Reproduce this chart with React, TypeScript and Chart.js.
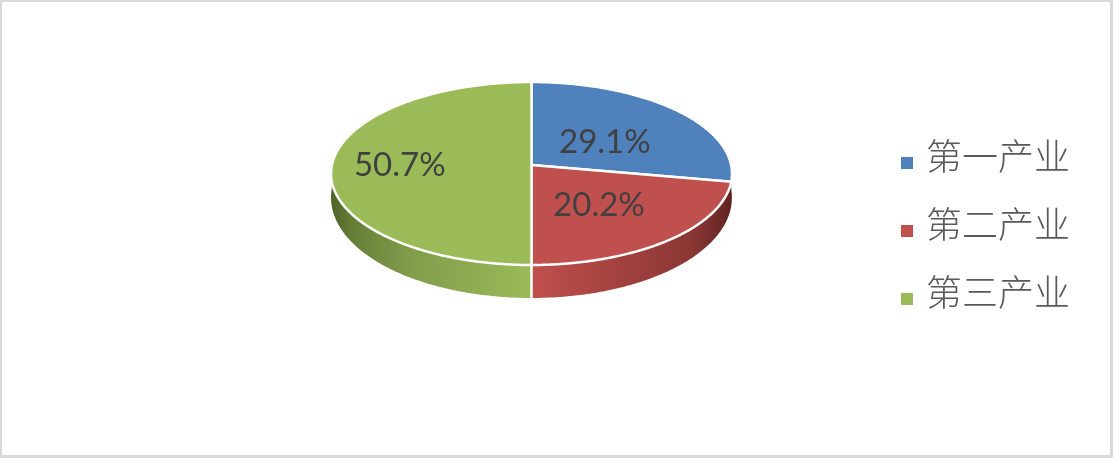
import React, { useEffect, useRef } from "react";
import { Chart, registerables } from "chart.js";

Chart.register(...registerables);

const categories = ["第一产业", "第二产业", "第三产业"];
const drawnShares = [27.9, 22.1, 50.0];
// Percentages as printed on the reference.
const printedLabels = ["29.1%", "20.2%", "50.7%"];
const topColors = ["#4f81bd", "#c0504d", "#9bbb59"];

const labelRadius = [0.454, 0.54, 0.66];
const labelAngleShift = [0.1, 0.05, 0];
const Y_RATIO = 0.4544;
const PERSPECTIVE = 0.0929;
const APEX_SHIFT_Y = -59;

const wallStops: [number, string][] = [
  [0, "#4f6228"], [0.05, "#667f37"], [0.2, "#829d4c"], [0.35, "#8dab51"], [0.4999, "#9bbb59"],
  [0.5, "#c0504d"], [0.7, "#a54341"], [0.9, "#8a3734"], [0.98, "#6a2826"], [1, "#5f2220"],
];

const project = (a: any, t: number, f = 1) => {
  const c = Math.cos(t), s = Math.sin(t);
  const w = 1 - PERSPECTIVE * f * s;
  return {
    x: a.x + (a.outerRadius * f * c) / w,
    y: a.y + APEX_SHIFT_Y + (a.outerRadius * Y_RATIO * f * s) / w,
    s,
  };
};
const depth = (s: number) => 23 + 10 * Math.max(s, 0);

const sampled = (a: any) => {
  const n = Math.max(8, Math.ceil((a.endAngle - a.startAngle) * 90));
  const out: number[] = [];
  for (let i = 0; i <= n; i++) out.push(a.startAngle + ((a.endAngle - a.startAngle) * i) / n);
  return out;
};

const pie3d = {
  id: "pie3d",
  beforeDatasetsDraw(chart: any) {
    const { ctx } = chart;
    const arcs = chart.getDatasetMeta(0).data;
    ctx.save();
    // side wall
    arcs.forEach((a: any) => {
      const pts = sampled(a).map((t) => project(a, t)).filter((p) => p.s >= -0.001);
      if (pts.length < 2) return;
      const g = ctx.createLinearGradient(a.x - a.outerRadius, 0, a.x + a.outerRadius, 0);
      wallStops.forEach(([o, c]) => g.addColorStop(o, c));
      ctx.beginPath();
      pts.forEach((p, i) => (i ? ctx.lineTo(p.x, p.y) : ctx.moveTo(p.x, p.y)));
      [...pts].reverse().forEach((p) => ctx.lineTo(p.x, p.y + depth(p.s)));
      ctx.closePath();
      ctx.fillStyle = g;
      ctx.fill();
    });
    // white seam on the wall at the front
    arcs.forEach((a: any) => {
      const p = project(a, a.endAngle);
      if (Math.abs(p.x - a.x) < 2 && p.s > 0) {
        ctx.strokeStyle = "#ffffff";
        ctx.lineWidth = 2.5;
        ctx.beginPath();
        ctx.moveTo(p.x, p.y);
        ctx.lineTo(p.x, p.y + depth(p.s));
        ctx.stroke();
      }
    });
    // top surface
    arcs.forEach((a: any) => {
      const apex = project(a, 0, 0);
      ctx.beginPath();
      ctx.moveTo(apex.x, apex.y);
      sampled(a).forEach((t) => {
        const p = project(a, t);
        ctx.lineTo(p.x, p.y);
      });
      ctx.closePath();
      ctx.fillStyle = a.options.backgroundColor;
      ctx.fill();
      ctx.strokeStyle = "#ffffff";
      ctx.lineWidth = 2.5;
      ctx.lineJoin = "round";
      ctx.stroke();
    });
    ctx.restore();
    return false;
  },
  afterDraw(chart: any) {
    const { ctx, legend } = chart;
    const arcs = chart.getDatasetMeta(0).data;
    ctx.save();
    ctx.font = "33px Lato";
    ctx.fillStyle = "#404040";
    ctx.textAlign = "center";
    ctx.textBaseline = "middle";
    arcs.forEach((a: any, i: number) => {
      const p = project(a, (a.startAngle + a.endAngle) / 2 + labelAngleShift[i], labelRadius[i]);
      ctx.fillText(printedLabels[i], p.x, p.y);
    });
    legend.legendHitBoxes.forEach((h: any, i: number) => {
      ctx.fillStyle = topColors[i];
      ctx.fillRect(h.left, h.top + (h.height - 12) / 2 + 7, 12, 12);
    });
    ctx.restore();
  },
};

export default function App() {
  const ref = useRef<HTMLCanvasElement>(null);
  useEffect(() => {
    document.body.style.margin = "0";
    const chart = new Chart(ref.current as HTMLCanvasElement, {
      type: "pie",
      data: {
        labels: categories,
        datasets: [{ data: drawnShares, backgroundColor: topColors, borderWidth: 0 }],
      },
      options: {
        animation: false,
        responsive: false,
        events: [],
        radius: 199.6,
        layout: { padding: { left: 194, right: 36, top: 0, bottom: 14 } },
        plugins: {
          tooltip: { enabled: false },
          legend: {
            position: "right",
            labels: {
              boxWidth: 7,
              boxHeight: 12,
              padding: 32,
              color: "#595959",
              font: { family: '"Noto Sans CJK SC"', size: 36, weight: "300" },
              generateLabels: () =>
                categories.map((text, index) => ({
                  text,
                  index,
                  fillStyle: "rgba(0,0,0,0)",
                  strokeStyle: "rgba(0,0,0,0)",
                  lineWidth: 0,
                  fontColor: "#595959",
                })),
            },
          },
        },
      } as any,
      plugins: [pie3d as any],
    });
    return () => chart.destroy();
  }, []);
  return (
    <div style={{ position: "relative", width: 1116, height: 462, background: "#fff" }}>
      <div
        style={{
          position: "absolute", left: 0, top: 0, width: 1113, height: 458, boxSizing: "border-box",
          borderStyle: "solid", borderColor: "#d9d9d9", borderWidth: "2px 3px 3px 2px",
        }}
      />
      <canvas ref={ref} width={1116} height={462} style={{ position: "absolute", left: 0, top: 0, display: "block" }} />
    </div>
  );
}
